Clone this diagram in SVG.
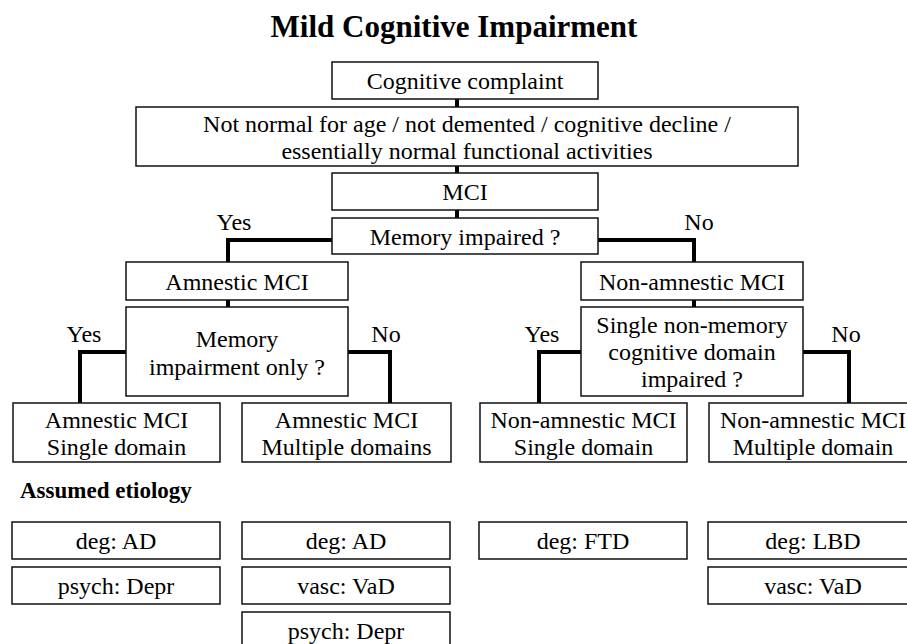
<svg xmlns="http://www.w3.org/2000/svg" width="907" height="644" viewBox="0 0 907 644">
<style>
.box{fill:#fff;stroke:#111;stroke-width:1.5}
.t{font-family:"Liberation Serif","Times New Roman",serif;font-size:24px;fill:#000;text-anchor:middle}
.lbl{font-family:"Liberation Serif","Times New Roman",serif;font-size:24px;fill:#000;text-anchor:middle}
.title{font-family:"Liberation Serif","Times New Roman",serif;font-size:31px;font-weight:bold;fill:#000;text-anchor:middle}
.head{font-family:"Liberation Serif","Times New Roman",serif;font-size:23px;font-weight:bold;fill:#000}
.conn{fill:none;stroke:#000;stroke-width:4;stroke-linejoin:miter;stroke-linecap:butt}
</style>
<rect width="907" height="644" fill="#fff"/>
<text class="title" x="454" y="37">Mild Cognitive Impairment</text>

<g id="connectors">
<path class="conn" d="M457 99V107"/>
<path class="conn" d="M457 166V173"/>
<path class="conn" d="M457 210V218"/>
<path class="conn" d="M332 240H228V262"/>
<path class="conn" d="M598 240H694V262"/>
<path class="conn" d="M228 300V307"/>
<path class="conn" d="M694 300V307"/>
<path class="conn" d="M126 352H80V403"/>
<path class="conn" d="M348 352H390V403"/>
<path class="conn" d="M581 352H539V403"/>
<path class="conn" d="M803 352H849V403"/>
<text class="lbl" x="234" y="230">Yes</text>
<text class="lbl" x="699" y="230">No</text>
<text class="lbl" x="84" y="342">Yes</text>
<text class="lbl" x="386" y="342">No</text>
<text class="lbl" x="542" y="342">Yes</text>
<text class="lbl" x="846" y="342">No</text>
</g>

<g id="n-complaint">
<rect class="box" x="332" y="62" width="266" height="37"/>
<text class="t" x="465" y="89">Cognitive complaint</text>
</g>
<g id="n-criteria">
<rect class="box" x="136" y="107" width="662" height="59"/>
<text class="t" x="467" y="132">Not normal for age / not demented / cognitive decline /</text>
<text class="t" x="467" y="159">essentially normal functional activities</text>
</g>
<g id="n-mci">
<rect class="box" x="332" y="173" width="266" height="37"/>
<text class="t" x="465" y="200">MCI</text>
</g>
<g id="n-memory">
<rect class="box" x="332" y="218" width="266" height="36"/>
<text class="t" x="465" y="245">Memory impaired ?</text>
</g>
<g id="n-amnestic">
<rect class="box" x="126" y="262" width="222" height="38"/>
<text class="t" x="237" y="290">Amnestic MCI</text>
</g>
<g id="n-nonamnestic">
<rect class="box" x="581" y="262" width="222" height="38"/>
<text class="t" x="692" y="290">Non-amnestic MCI</text>
</g>
<g id="n-memonly">
<rect class="box" x="126" y="307" width="222" height="89"/>
<text class="t" x="237" y="347">Memory</text>
<text class="t" x="237" y="375">impairment only ?</text>
</g>
<g id="n-single">
<rect class="box" x="581" y="307" width="222" height="89"/>
<text class="t" x="692" y="333">Single non-memory</text>
<text class="t" x="692" y="360">cognitive domain</text>
<text class="t" x="692" y="387">impaired ?</text>
</g>
<g id="n-am-single">
<rect class="box" x="13" y="403" width="207" height="59"/>
<text class="t" x="116.5" y="428">Amnestic MCI</text>
<text class="t" x="116.5" y="455">Single domain</text>
</g>
<g id="n-am-multi">
<rect class="box" x="242" y="403" width="209" height="59"/>
<text class="t" x="346.5" y="428">Amnestic MCI</text>
<text class="t" x="346.5" y="455">Multiple domains</text>
</g>
<g id="n-na-single">
<rect class="box" x="480" y="403" width="207" height="59"/>
<text class="t" x="583.5" y="428">Non-amnestic MCI</text>
<text class="t" x="583.5" y="455">Single domain</text>
</g>
<g id="n-na-multi">
<rect class="box" x="709" y="403" width="208" height="59"/>
<text class="t" x="813" y="428">Non-amnestic MCI</text>
<text class="t" x="813" y="455">Multiple domain</text>
</g>

<text class="head" x="20" y="498">Assumed etiology</text>

<g id="e1-ad">
<rect class="box" x="12" y="522" width="208" height="37"/>
<text class="t" x="116" y="549">deg: AD</text>
</g>
<g id="e1-depr">
<rect class="box" x="12" y="567" width="208" height="37"/>
<text class="t" x="116" y="594">psych: Depr</text>
</g>
<g id="e2-ad">
<rect class="box" x="242" y="522" width="208" height="37"/>
<text class="t" x="346" y="549">deg: AD</text>
</g>
<g id="e2-vad">
<rect class="box" x="242" y="567" width="208" height="37"/>
<text class="t" x="346" y="594">vasc: VaD</text>
</g>
<g id="e2-depr">
<rect class="box" x="242" y="612" width="208" height="37"/>
<text class="t" x="346" y="639">psych: Depr</text>
</g>
<g id="e3-ftd">
<rect class="box" x="479" y="522" width="208" height="37"/>
<text class="t" x="583" y="549">deg: FTD</text>
</g>
<g id="e4-lbd">
<rect class="box" x="708" y="522" width="209" height="37"/>
<text class="t" x="813" y="549">deg: LBD</text>
</g>
<g id="e4-vad">
<rect class="box" x="708" y="567" width="209" height="37"/>
<text class="t" x="813" y="594">vasc: VaD</text>
</g>
</svg>
